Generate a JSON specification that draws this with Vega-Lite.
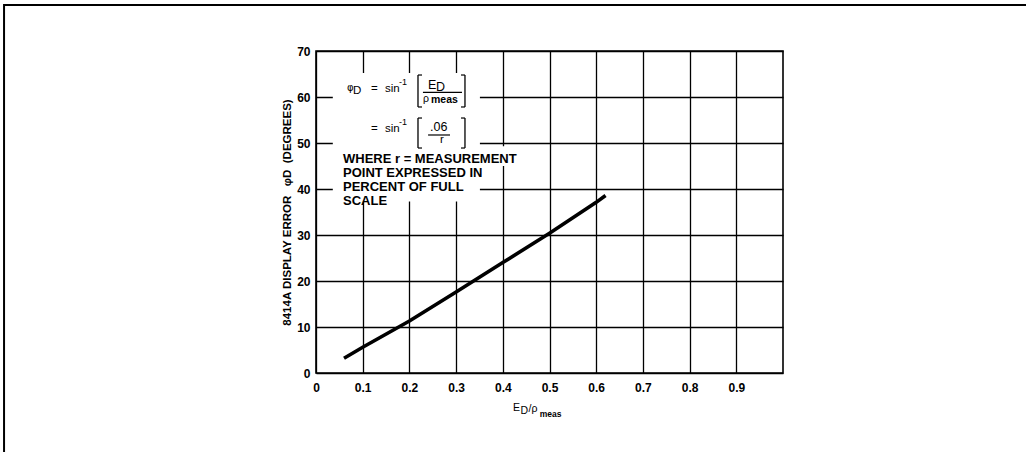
{
  "$schema": "https://vega.github.io/schema/vega-lite/v6.json",
  "width": 467,
  "height": 322,
  "autosize": {"type": "none"},
  "padding": {"left": 316, "top": 51, "right": 243, "bottom": 79},
  "background": "white",
  "config": {
    "font": "Liberation Sans",
    "view": {"stroke": "black", "strokeWidth": 1.6},
    "axis": {
      "domain": false,
      "ticks": false,
      "grid": true,
      "gridColor": "black",
      "gridWidth": 1.3,
      "gridOpacity": 1,
      "labelFont": "Liberation Sans",
      "labelFontWeight": "bold",
      "labelFontSize": 12,
      "labelColor": "black",
      "titleColor": "black",
      "titleFont": "Liberation Sans"
    }
  },
  "layer": [
    {
      "data": {"values": [
        {"ratio": 0.06, "error": 3.2},
        {"ratio": 0.1, "error": 5.6},
        {"ratio": 0.2, "error": 11.3},
        {"ratio": 0.3, "error": 17.6},
        {"ratio": 0.4, "error": 24.0},
        {"ratio": 0.5, "error": 30.4},
        {"ratio": 0.6, "error": 37.1},
        {"ratio": 0.62, "error": 38.6}
      ]},
      "mark": {"type": "line", "color": "black", "strokeWidth": 3.6, "strokeCap": "butt"},
      "encoding": {
        "x": {
          "field": "ratio", "type": "quantitative",
          "scale": {"domain": [0, 1], "nice": false, "zero": false},
          "axis": {"values": [0, 0.1, 0.2, 0.3, 0.4, 0.5, 0.6, 0.7, 0.8, 0.9], "format": ".1~f", "labelPadding": 9, "title": null, "labelFlush": false}
        },
        "y": {
          "field": "error", "type": "quantitative",
          "scale": {"domain": [0, 70], "nice": false},
          "axis": {"values": [0, 10, 20, 30, 40, 50, 60, 70], "labelPadding": 6, "labelFlush": false,
            "title": "8414A DISPLAY ERROR\u00a0\u00a0\u00a0φD\u00a0\u00a0(DEGREES)", "titleFontSize": 11.5, "titleFontWeight": "bold", "titlePadding": 4}
        }
      }
    },
    {
      "data": {"values": [
        {"ratio": 0.036, "ratio2": 0.351, "error": 65.2, "error2": 37.3},
        {"ratio": 0.35, "ratio2": 0.44, "error": 49.3, "error2": 45.0}
      ]},
      "mark": {"type": "rect", "color": "white"},
      "encoding": {
        "x": {"field": "ratio", "type": "quantitative"},
        "x2": {"field": "ratio2"},
        "y": {"field": "error", "type": "quantitative"},
        "y2": {"field": "error2"}
      }
    },
    {
      "data": {"values": [
        {"ratio": 0.0792, "error": 60.65, "t": "D"},
        {"ratio": 0.1178, "error": 61.09, "t": "="},
        {"ratio": 0.1478, "error": 61.09, "t": "sin"},
        {"ratio": 0.1178, "error": 52.39, "t": "="},
        {"ratio": 0.1478, "error": 52.39, "t": "sin"},
        {"ratio": 0.2655, "error": 49.9, "t": "r"}
      ]},
      "mark": {"type": "text", "align": "left", "baseline": "alphabetic", "fontSize": 11.5, "font": "Liberation Sans", "color": "black"},
      "encoding": {
        "x": {"field": "ratio", "type": "quantitative"},
        "y": {"field": "error", "type": "quantitative"},
        "text": {"field": "t"}
      }
    },
    {
      "data": {"values": [
        {"ratio": 0.2398, "error": 61.7, "t": "E"},
        {"ratio": 0.2570, "error": 61.3, "t": "D"},
        {"ratio": 0.2441, "error": 52.6, "t": ".06"}
      ]},
      "mark": {"type": "text", "align": "left", "baseline": "alphabetic", "fontSize": 12.5, "font": "Liberation Sans", "color": "black"},
      "encoding": {
        "x": {"field": "ratio", "type": "quantitative"},
        "y": {"field": "error", "type": "quantitative"},
        "text": {"field": "t"}
      }
    },
    {
      "data": {"values": [
        {"ratio": 0.0664, "error": 61.3, "t": "φ"}
      ]},
      "mark": {"type": "text", "align": "left", "baseline": "alphabetic", "fontSize": 10, "font": "DejaVu Sans", "color": "black"},
      "encoding": {
        "x": {"field": "ratio", "type": "quantitative"},
        "y": {"field": "error", "type": "quantitative"},
        "text": {"field": "t"}
      }
    },
    {
      "data": {"values": [
        {"ratio": 0.1777, "error": 62.6, "t": "-1"},
        {"ratio": 0.1777, "error": 53.9, "t": "-1"}
      ]},
      "mark": {"type": "text", "align": "left", "baseline": "alphabetic", "fontSize": 9, "font": "Liberation Sans", "color": "black"},
      "encoding": {
        "x": {"field": "ratio", "type": "quantitative"},
        "y": {"field": "error", "type": "quantitative"},
        "text": {"field": "t"}
      }
    },
    {
      "data": {"values": [
        {"ratio": 0.2184, "error": 64.78, "error2": 57.83},
        {"ratio": 0.319, "error": 64.78, "error2": 57.83},
        {"ratio": 0.2184, "error": 55.43, "error2": 48.91},
        {"ratio": 0.319, "error": 55.43, "error2": 48.91}
      ]},
      "mark": {"type": "rule", "color": "black", "strokeWidth": 1.3},
      "encoding": {
        "x": {"field": "ratio", "type": "quantitative"},
        "y": {"field": "error", "type": "quantitative"},
        "y2": {"field": "error2"}
      }
    },
    {
      "data": {"values": [
        {"ratio": 0.2184, "ratio2": 0.227, "error": 64.78},
        {"ratio": 0.2184, "ratio2": 0.227, "error": 57.83},
        {"ratio": 0.3105, "ratio2": 0.319, "error": 64.78},
        {"ratio": 0.3105, "ratio2": 0.319, "error": 57.83},
        {"ratio": 0.2184, "ratio2": 0.227, "error": 55.43},
        {"ratio": 0.2184, "ratio2": 0.227, "error": 48.91},
        {"ratio": 0.3105, "ratio2": 0.319, "error": 55.43},
        {"ratio": 0.3105, "ratio2": 0.319, "error": 48.91},
        {"ratio": 0.229, "ratio2": 0.3126, "error": 61.0},
        {"ratio": 0.24, "ratio2": 0.287, "error": 51.74}
      ]},
      "mark": {"type": "rule", "color": "black", "strokeWidth": 1.2},
      "encoding": {
        "x": {"field": "ratio", "type": "quantitative"},
        "x2": {"field": "ratio2"},
        "y": {"field": "error", "type": "quantitative"}
      }
    },
    {
      "data": {"values": [
        {"ratio": 0.2291, "error": 58.9, "t": "ρ"}
      ]},
      "mark": {"type": "text", "align": "left", "baseline": "alphabetic", "fontSize": 10.5, "font": "Liberation Sans", "color": "black"},
      "encoding": {
        "x": {"field": "ratio", "type": "quantitative"},
        "y": {"field": "error", "type": "quantitative"},
        "text": {"field": "t"}
      }
    },
    {
      "data": {"values": [
        {"ratio": 0.2463, "error": 58.7, "t": "meas"}
      ]},
      "mark": {"type": "text", "align": "left", "baseline": "alphabetic", "fontSize": 10.5, "fontWeight": "bold", "font": "Liberation Sans", "color": "black"},
      "encoding": {
        "x": {"field": "ratio", "type": "quantitative"},
        "y": {"field": "error", "type": "quantitative"},
        "text": {"field": "t"}
      }
    },
    {
      "data": {"values": [
        {"ratio": 0.0578, "error": 45.65, "t": "WHERE r = MEASUREMENT"},
        {"ratio": 0.0578, "error": 42.6, "t": "POINT EXPRESSED IN"},
        {"ratio": 0.0578, "error": 39.6, "t": "PERCENT OF FULL"},
        {"ratio": 0.0578, "error": 36.5, "t": "SCALE"}
      ]},
      "mark": {"type": "text", "align": "left", "baseline": "alphabetic", "fontSize": 13, "fontWeight": "bold", "font": "Liberation Sans", "color": "black"},
      "encoding": {
        "x": {"field": "ratio", "type": "quantitative"},
        "y": {"field": "error", "type": "quantitative"},
        "text": {"field": "t"}
      }
    },
    {
      "data": {"values": [
        {"ratio": 0.422, "error": -8.26, "t": "E"},
        {"ratio": 0.438, "error": -8.9, "t": "D"},
        {"ratio": 0.455, "error": -8.4, "t": "/ρ"}
      ]},
      "mark": {"type": "text", "align": "left", "baseline": "alphabetic", "fontSize": 10.5, "font": "Liberation Sans", "color": "black"},
      "encoding": {
        "x": {"field": "ratio", "type": "quantitative"},
        "y": {"field": "error", "type": "quantitative"},
        "text": {"field": "t"}
      }
    },
    {
      "data": {"values": [
        {"ratio": 0.479, "error": -9.57, "t": "meas"}
      ]},
      "mark": {"type": "text", "align": "left", "baseline": "alphabetic", "fontSize": 8.5, "fontWeight": "bold", "font": "Liberation Sans", "color": "black"},
      "encoding": {
        "x": {"field": "ratio", "type": "quantitative"},
        "y": {"field": "error", "type": "quantitative"},
        "text": {"field": "t"}
      }
    },
    {
      "data": {"values": [
        {"ratio": -0.668, "ratio2": 1.53, "error": 80.0}
      ]},
      "mark": {"type": "rule", "color": "black", "strokeWidth": 2},
      "encoding": {
        "x": {"field": "ratio", "type": "quantitative"},
        "x2": {"field": "ratio2"},
        "y": {"field": "error", "type": "quantitative"}
      }
    },
    {
      "data": {"values": [
        {"ratio": -0.668, "error": 80.2, "error2": -18}
      ]},
      "mark": {"type": "rule", "color": "black", "strokeWidth": 2},
      "encoding": {
        "x": {"field": "ratio", "type": "quantitative"},
        "y": {"field": "error", "type": "quantitative"},
        "y2": {"field": "error2"}
      }
    }
  ]
}
